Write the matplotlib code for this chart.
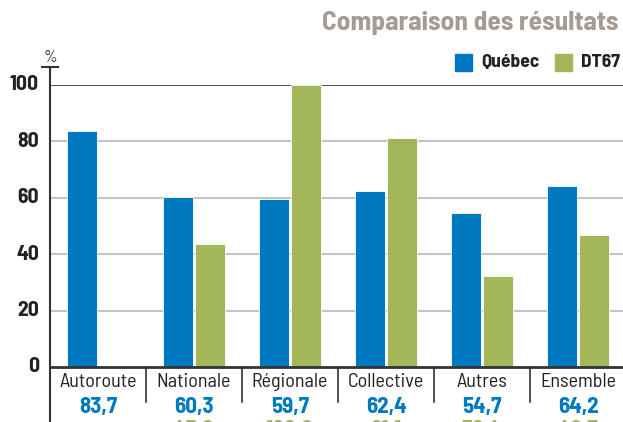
import matplotlib.pyplot as plt
import numpy as np

categories = ['Autoroute', 'Nationale', 'Régionale', 'Collective', 'Autres', 'Ensemble']
quebec = [83.7, 60.3, 59.7, 62.4, 54.7, 64.2]
dt67 = [None, 43.6, 100.0, 81.1, 32.4, 46.7]
yticks = [0, 20, 40, 60, 80, 100]

BLUE = '#0079c1'
GREEN = '#a3b65a'
TITLE_GRAY = '#a49b92'
DARK = '#333333'

plt.rcParams['font.family'] = ['Barlow Semi Condensed', 'DejaVu Sans']

W, H = 623, 422
fig = plt.figure(figsize=(W / 100, H / 100), dpi=100)
# plot area: x from 50 px, 96 px per category; y=0 at 367 px, y=100 at 85 px
ax = fig.add_axes([50 / W, (H - 367) / H, 576 / W, 282 / H])
ax.set_xlim(-0.5, 5.5)
ax.set_ylim(0, 100)
ax.axis('off')

px_y = 100 / 282  # data units per pixel (y)
px_x = 1 / 96      # data units per pixel (x)

# grid lines
for v in [20, 40, 60, 80]:
    ax.axhline(v, color='#c4c4c4', lw=1.5, zorder=1)
ax.axhline(100, color='#555555', lw=1.5, zorder=1)

x = np.arange(len(categories))
ax.bar(x - 0.17, quebec, width=0.31, color=BLUE, edgecolor='white', linewidth=0.6, zorder=3)
dt_vals = [v if v is not None else 0 for v in dt67]
ax.bar(x + 0.165, dt_vals, width=0.31, color=GREEN, edgecolor='white', linewidth=0.6, zorder=3)

# axis lines
ax.plot([-0.5, 5.6], [0, 0], color=DARK, lw=2, clip_on=False, zorder=4)
ax.plot([-0.5, -0.5], [-60, 100 + 18 * px_y], color=DARK, lw=1.5, clip_on=False, zorder=4)
ax.plot([-0.5 - 8 * px_x, -0.5 + 8 * px_x], [100 + 18 * px_y] * 2, color=DARK, lw=1.5, clip_on=False)
ax.text(-0.5, 100 + 20 * px_y, '%', ha='center', va='bottom', fontsize=12, color=DARK)

for v in yticks:
    ax.text(-0.5 - 11 * px_x, v, str(v), ha='right', va='center', fontsize=15.5,
            fontweight='bold', color='#222222')

# category separators and labels below axis
for i in range(1, len(categories)):
    ax.plot([i - 0.5, i - 0.5], [0, -35 * px_y], color=DARK, lw=1.2, clip_on=False)

for i, cat in enumerate(categories):
    ax.text(i, -15 * px_y, cat, ha='center', va='center', fontsize=14.5, color='#222222')
    ax.text(i, -40 * px_y, f'{quebec[i]:.1f}'.replace('.', ','), ha='center', va='center',
            fontsize=16.5, fontweight='bold', color=BLUE)
    if dt67[i] is not None:
        ax.text(i, -63 * px_y, f'{dt67[i]:.1f}'.replace('.', ','), ha='center', va='center',
                fontsize=16.5, fontweight='bold', color=GREEN)

# title and legend
fig.text(618 / W, 1 - 23 / H, 'Comparaison des résultats', ha='right', va='center',
         fontsize=19.7, fontweight='bold', color=TITLE_GRAY)

fig.patches.append(plt.Rectangle((455 / W, 1 - 71 / H), 17 / W, 17 / H, color=BLUE,
                                 transform=fig.transFigure, figure=fig))
fig.text(481 / W, 1 - 63 / H, 'Québec', ha='left', va='center', fontsize=14,
         fontweight='bold', color='#222222')
fig.patches.append(plt.Rectangle((555 / W, 1 - 71 / H), 17 / W, 17 / H, color=GREEN,
                                 transform=fig.transFigure, figure=fig))
fig.text(581 / W, 1 - 63 / H, 'DT67', ha='left', va='center', fontsize=14,
         fontweight='bold', color='#222222')

fig.savefig('out.png', dpi=100)
